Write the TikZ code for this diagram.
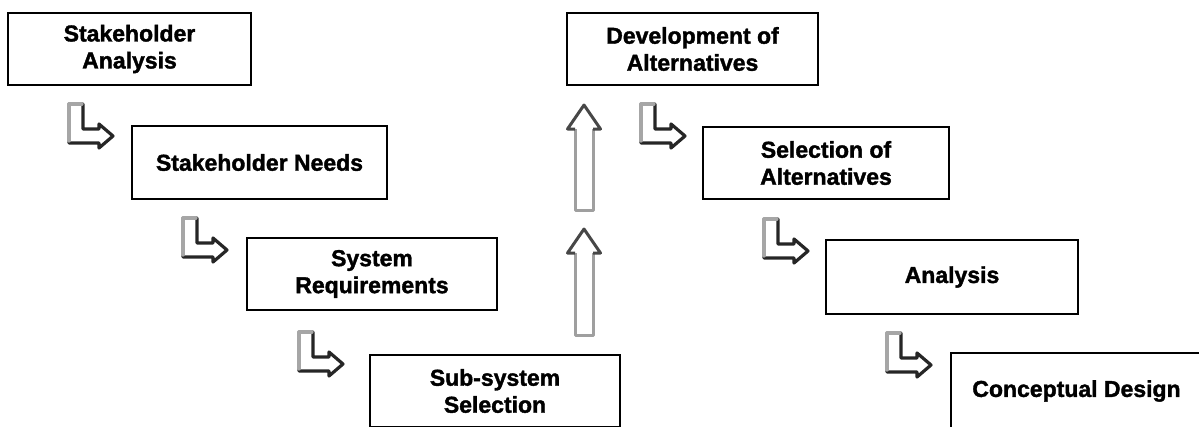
\documentclass[tikz,border=0pt]{standalone}
\usepackage{fontspec}
\setmainfont{Liberation Sans}[BoldFeatures={FakeBold=1.6}]
\begin{document}
\begin{tikzpicture}[x=1pt,y=-1pt,
  stagebox/.style={draw=black, line width=2.6pt, fill=white, align=center,
    inner sep=0pt, font=\fontsize{23}{27}\selectfont\bfseries},
  % hollow L-shaped arrow, origin at the top-left corner of its stem
  pics/bentarrow/.style={code={
    \draw[line width=3.2pt, black!85, line join=round]
      (0,0) -- (14,0) -- (14,25) -- (30,25) -- (30,20) -- (44,32)
      -- (30,44) -- (30,39) -- (0,39) -- cycle;
    \draw[line width=3.2pt, gray!70, line join=round, line cap=round]
      (0,37) -- (0,0) -- (13,0);
  }},
  % hollow upward arrow, origin at its tip, #1 = total length
  pics/hollowup/.style={code={
    \draw[line width=3pt, gray!75, line join=round]
      (-9,24) -- (-9,#1) -- (9,#1) -- (9,24);
    \draw[line width=3pt, black!72, line join=round]
      (-9,24) -- (-16.5,24) -- (0,0) -- (16.5,24) -- (9,24);
  }}]
\useasboundingbox (0,0) rectangle (1199,426);
\clip (0,0) rectangle (1199,426);

% process stages
\node[stagebox, minimum width=243pt, minimum height=72pt] (sa) at (129.5,49) {Stakeholder\\Analysis};
\node[stagebox, minimum width=255pt, minimum height=73pt] (sn) at (259.5,162.5) {Stakeholder Needs};
\node[stagebox, minimum width=250pt, minimum height=72pt] (sr) at (372,274) {System\\Requirements};
\node[stagebox, minimum width=250pt, minimum height=72pt] (ss) at (495,391) {Sub-system\\Selection};
\node[stagebox, minimum width=251pt, minimum height=72pt] (da) at (692.5,49) {Development of\\Alternatives};
\node[stagebox, minimum width=246pt, minimum height=72pt] (sl) at (826,163) {Selection of\\Alternatives};
\node[stagebox, minimum width=252pt, minimum height=74pt] (an) at (952,277) {Analysis};
\node[stagebox, minimum width=251pt, minimum height=76pt] (cd) at (1076.5,391) {Conceptual Design};

% step arrows between stages
\pic at (69,104) {bentarrow};
\pic at (183,218) {bentarrow};
\pic at (299,332) {bentarrow};
\pic at (641,104) {bentarrow};
\pic at (764,219) {bentarrow};
\pic at (887,333) {bentarrow};

% upward arrows from sub-system selection to alternatives
\pic at (584,105) {hollowup=105};
\pic at (584,229) {hollowup=106};
\end{tikzpicture}
\end{document}
